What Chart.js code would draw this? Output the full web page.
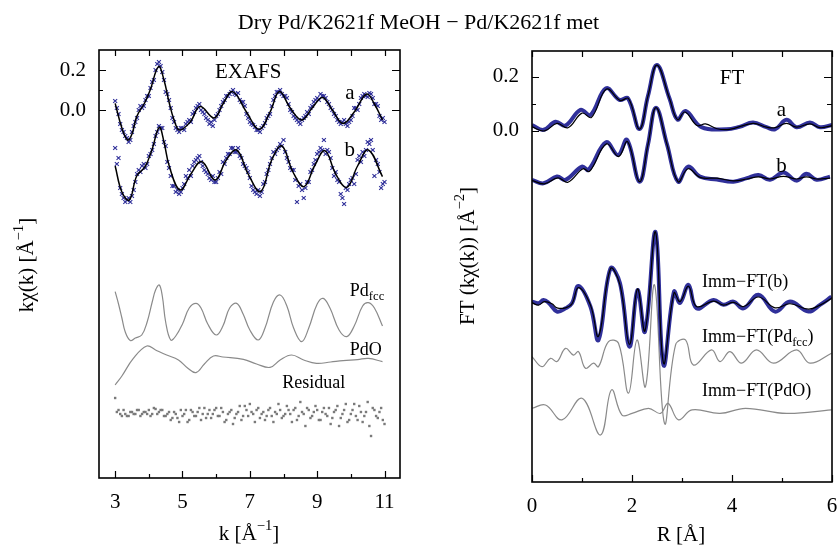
<!DOCTYPE html>
<html>
<head>
<meta charset="utf-8">
<script src="https://cdn.jsdelivr.net/npm/chart.js@4/dist/chart.umd.min.js"></script>
<style>
  html, body { margin: 0; padding: 0; background: #fff; }
  #wrap { position: relative; width: 837px; height: 545px; overflow: hidden; }
  canvas { position: absolute; left: 0; top: 0; }
  #title {
    position: absolute; left: 0; top: 9px; width: 837px; text-align: center;
    font: 22px 'Liberation Serif', 'DejaVu Serif', serif; line-height: 26px; color: #000;
  }
</style>
</head>
<body>
<div id="wrap">
  <canvas id="left" width="837" height="545"></canvas>
  <canvas id="right" width="837" height="545"></canvas>
  <div id="title">Dry Pd/K2621f MeOH − Pd/K2621f met</div>
</div>
<script>
// ---- left panel: EXAFS, k grids of the measured points
const kGrid = [3.0,3.1,3.2,3.3,3.4,3.5,3.6,3.7,3.8,3.9,4.0,4.1,4.2,4.3,4.4,4.5,4.6,4.7,4.8,4.9,
  5.0,5.1,5.2,5.3,5.4,5.5,5.6,5.7,5.8,5.9,6.0,6.1,6.2,6.3,6.4,6.5,6.6,6.7,6.8,6.9,
  7.0,7.1,7.2,7.3,7.4,7.5,7.6,7.7,7.8,7.9,8.0,8.1,8.2,8.3,8.4,8.5,8.6,8.7,8.8,8.9,
  9.0,9.1,9.2,9.3,9.4,9.5,9.6,9.7,9.8,9.9,10.0,10.1,10.2,10.3,10.4,10.5,10.6,10.7,10.8,10.9,11.0];
const kHalf = [3.05,3.15,3.25,3.35,3.45,3.55,3.65,3.75,3.85,3.95,4.05,4.15,4.25,4.35,4.45,4.55,4.65,4.75,4.85,4.95,
  5.05,5.15,5.25,5.35,5.45,5.55,5.65,5.75,5.85,5.95,6.05,6.15,6.25,6.35,6.45,6.55,6.65,6.75,6.85,6.95,
  7.05,7.15,7.25,7.35,7.45,7.55,7.65,7.75,7.85,7.95,8.05,8.15,8.25,8.35,8.45,8.55,8.65,8.75,8.85,8.95,
  9.05,9.15,9.25,9.35,9.45,9.55,9.65,9.75,9.85,9.95,10.05,10.15,10.25,10.35,10.45,10.55,10.65,10.75,10.85,10.95];

const exafsA = [0.045,-0.02,-0.10,-0.13,-0.16,-0.11,-0.06,0.00,0.01,0.05,0.07,0.14,0.20,0.24,0.19,0.09,0.05,-0.04,-0.09,-0.11,
  -0.09,-0.07,-0.05,-0.02,0.01,0.03,-0.01,-0.04,-0.07,-0.08,-0.03,0.0,0.04,0.07,0.08,0.10,0.075,0.05,0.04,-0.02,
  -0.06,-0.075,-0.10,-0.11,-0.08,-0.04,-0.02,0.05,0.09,0.10,0.07,0.06,0.0,-0.03,-0.05,-0.07,-0.04,-0.01,0.01,0.04,
  0.06,0.08,0.07,0.04,0.01,-0.02,-0.05,-0.07,-0.05,-0.08,-0.05,0.01,0.0,0.06,0.08,0.065,0.08,0.03,0.02,-0.05,-0.06];
const exafsA2 = [0.01,-0.07,-0.11,-0.14,-0.15,-0.08,-0.04,0.02,0.02,0.07,0.11,0.15,0.23,0.22,0.15,0.08,0.01,-0.06,-0.10,-0.09,
  -0.10,-0.06,-0.06,-0.01,0.02,0.0,-0.02,-0.05,-0.06,-0.05,-0.02,0.02,0.05,0.07,0.09,0.08,0.085,0.04,0.02,-0.04,
  -0.07,-0.085,-0.10,-0.09,-0.065,-0.03,0.02,0.07,0.09,0.08,0.07,0.03,-0.01,-0.04,-0.06,-0.05,-0.03,-0.02,0.02,0.05,
  0.05,0.07,0.06,0.03,0.0,-0.03,-0.06,-0.06,-0.07,-0.06,-0.03,0.01,0.03,0.07,0.07,0.085,0.06,0.03,-0.03,-0.04];

const exafsB = [-0.19,-0.24,-0.42,-0.46,-0.44,-0.43,-0.36,-0.30,-0.28,-0.29,-0.23,-0.20,-0.13,-0.08,-0.09,-0.18,-0.29,-0.38,-0.41,-0.42,
  -0.39,-0.33,-0.30,-0.28,-0.25,-0.23,-0.28,-0.31,-0.34,-0.33,-0.36,-0.31,-0.26,-0.24,-0.22,-0.19,-0.21,-0.23,-0.27,-0.29,
  -0.34,-0.40,-0.42,-0.43,-0.37,-0.32,-0.27,-0.21,-0.20,-0.17,-0.15,-0.24,-0.29,-0.30,-0.46,-0.37,-0.44,-0.36,-0.31,-0.27,
  -0.22,-0.19,-0.15,-0.20,-0.24,-0.33,-0.35,-0.42,-0.47,-0.40,-0.35,-0.37,-0.25,-0.26,-0.23,-0.16,-0.15,-0.33,-0.27,-0.39,-0.36];
const exafsB2 = [-0.27,-0.39,-0.44,-0.45,-0.46,-0.40,-0.32,-0.31,-0.27,-0.27,-0.22,-0.17,-0.11,-0.09,-0.16,-0.26,-0.33,-0.38,-0.40,-0.41,
  -0.37,-0.34,-0.33,-0.26,-0.24,-0.26,-0.30,-0.32,-0.35,-0.36,-0.34,-0.32,-0.27,-0.22,-0.19,-0.21,-0.19,-0.24,-0.28,-0.31,
  -0.38,-0.41,-0.40,-0.41,-0.36,-0.30,-0.24,-0.22,-0.19,-0.18,-0.21,-0.26,-0.30,-0.35,-0.38,-0.40,-0.39,-0.36,-0.30,-0.25,
  -0.21,-0.20,-0.22,-0.21,-0.29,-0.31,-0.36,-0.44,-0.39,-0.37,-0.34,-0.32,-0.23,-0.21,-0.20,-0.17,-0.20,-0.25,-0.31,-0.37];

const residual = [-1.44,-1.50,-1.53,-1.52,-1.53,-1.51,-1.52,-1.50,-1.52,-1.51,-1.50,-1.52,-1.495,-1.51,-1.50,-1.53,-1.51,-1.54,-1.52,-1.56,
  -1.53,-1.50,-1.55,-1.51,-1.53,-1.49,-1.52,-1.54,-1.50,-1.52,-1.49,-1.53,-1.51,-1.55,-1.51,-1.57,-1.52,-1.48,-1.53,-1.50,
  -1.47,-1.52,-1.50,-1.54,-1.51,-1.53,-1.49,-1.56,-1.52,-1.50,-1.53,-1.48,-1.52,-1.50,-1.55,-1.46,-1.52,-1.49,-1.54,-1.51,
  -1.50,-1.55,-1.49,-1.53,-1.57,-1.51,-1.48,-1.54,-1.50,-1.56,-1.52,-1.47,-1.55,-1.51,-1.53,-1.46,-1.63,-1.50,-1.54,-1.49,-1.57];
const residual2 = [-1.51,-1.52,-1.50,-1.53,-1.51,-1.52,-1.50,-1.53,-1.51,-1.52,
  -1.53,-1.49,-1.52,-1.50,-1.53,-1.52,-1.55,-1.51,-1.54,-1.50,
  -1.52,-1.56,-1.50,-1.53,-1.51,-1.55,-1.49,-1.52,-1.54,-1.50,
  -1.53,-1.49,-1.56,-1.52,-1.50,-1.54,-1.51,-1.55,-1.48,-1.53,
  -1.51,-1.56,-1.49,-1.52,-1.55,-1.50,-1.53,-1.51,-1.47,-1.54,
  -1.52,-1.50,-1.56,-1.49,-1.53,-1.51,-1.58,-1.50,-1.53,-1.48,
  -1.55,-1.51,-1.52,-1.49,-1.54,-1.50,-1.58,-1.52,-1.47,-1.55,
  -1.50,-1.53,-1.48,-1.56,-1.51,-1.58,-1.49,-1.53,-1.51,-1.55];

const fitA = [[3.0,0.033],[3.2,-0.09],[3.37,-0.15],[3.5,-0.12],[3.64,-0.033],[3.89,0.04],[4.04,0.1],[4.29,0.217],[4.45,0.15],
  [4.6,0.04],[4.75,-0.05],[4.91,-0.10],[5.23,-0.06],[5.52,0.017],[5.94,-0.04],[6.2,0.03],[6.49,0.092],[6.9,-0.01],[7.28,-0.097],
  [7.6,-0.01],[7.88,0.092],[8.2,0.01],[8.54,-0.05],[8.85,0.01],[9.16,0.063],[9.45,0.0],[9.77,-0.067],[10.1,-0.01],[10.47,0.08],
  [10.7,0.03],[10.94,-0.05]];

const fitB = [[3.0,-0.28],[3.2,-0.41],[3.42,-0.45],[3.64,-0.33],[3.89,-0.283],[4.09,-0.2],[4.31,-0.087],[4.45,-0.16],[4.61,-0.283],
  [4.93,-0.40],[5.25,-0.32],[5.57,-0.258],[5.97,-0.35],[6.3,-0.25],[6.61,-0.20],[6.95,-0.32],[7.32,-0.408],[7.65,-0.25],[7.95,-0.18],
  [8.28,-0.31],[8.61,-0.383],[8.92,-0.28],[9.23,-0.203],[9.55,-0.32],[9.88,-0.387],[10.2,-0.28],[10.52,-0.20],[10.94,-0.333]];

const pdFcc = [[3.0,-0.908],[3.1,-0.97],[3.2,-1.04],[3.3,-1.11],[3.45,-1.153],[3.6,-1.14],[3.79,-1.125],[3.95,-1.06],[4.1,-0.96],
  [4.2,-0.9],[4.31,-0.875],[4.4,-0.93],[4.5,-1.06],[4.65,-1.15],[4.8,-1.13],[5.0,-1.07],[5.2,-0.99],[5.40,-0.967],[5.55,-0.99],
  [5.75,-1.07],[6.0,-1.125],[6.2,-1.08],[6.4,-0.99],[6.61,-0.967],[6.8,-1.02],[7.0,-1.1],[7.25,-1.15],[7.45,-1.09],[7.7,-0.96],
  [7.9,-0.925],[8.1,-0.98],[8.3,-1.09],[8.54,-1.158],[8.75,-1.09],[9.0,-0.97],[9.18,-0.942],[9.38,-0.99],[9.65,-1.1],[9.88,-1.133],
  [10.1,-1.08],[10.35,-0.98],[10.52,-0.963],[10.7,-0.99],[10.94,-1.08]];

const pdO = [[3.0,-1.375],[3.2,-1.33],[3.54,-1.242],[3.94,-1.18],[4.2,-1.2],[4.53,-1.225],[4.88,-1.25],[5.15,-1.29],[5.40,-1.313],
  [5.65,-1.27],[5.92,-1.23],[6.2,-1.235],[6.81,-1.247],[7.2,-1.27],[7.6,-1.287],[7.9,-1.25],[8.24,-1.225],[8.6,-1.25],[8.98,-1.267],
  [9.4,-1.26],[9.77,-1.253],[10.2,-1.248],[10.52,-1.242],[10.94,-1.258]];

// ---- right panel: FT
const ftA = [[0,0.022],[0.23,0.004],[0.47,0.034],[0.67,0.02],[0.97,0.078],[1.17,0.059],[1.48,0.158],[1.75,0.115],[1.92,0.121],
  [2.15,0.007],[2.32,0.13],[2.5,0.244],[2.75,0.12],[2.91,0.042],[3.07,0.074],[3.39,0.014],[3.89,0.006],[4.15,0.015],[4.42,0.031],
  [4.69,0.014],[4.86,0.006],[5.09,0.041],[5.29,0.014],[5.56,0.031],[5.76,0.014],[6.0,0.022]];
const ftAFit = [[0,0.015],[0.25,0.0],[0.5,0.028],[0.72,0.012],[1.0,0.066],[1.19,0.05],[1.49,0.155],[1.76,0.113],[1.93,0.12],
  [2.15,0.007],[2.32,0.13],[2.5,0.244],[2.75,0.12],[2.91,0.042],[3.06,0.07],[3.3,0.02],[3.47,0.026],[3.7,0.008],[3.95,0.006],
  [4.42,0.028],[4.69,0.014],[4.86,0.012],[5.09,0.028],[5.29,0.014],[5.56,0.026],[5.76,0.012],[6.0,0.02]];
const ftB = [[0,-0.181],[0.23,-0.194],[0.5,-0.169],[0.67,-0.181],[1.0,-0.132],[1.13,-0.144],[1.48,-0.042],[1.72,-0.089],[1.9,-0.033],
  [2.15,-0.188],[2.32,-0.05],[2.48,0.086],[2.7,-0.05],[2.92,-0.188],[3.12,-0.132],[3.36,-0.169],[3.7,-0.18],[4.03,-0.188],[4.3,-0.175],
  [4.53,-0.163],[4.76,-0.181],[5.03,-0.154],[5.29,-0.184],[5.49,-0.159],[5.69,-0.181],[5.96,-0.169]];
const ftBFit = [[0,-0.183],[0.25,-0.196],[0.52,-0.174],[0.72,-0.19],[1.02,-0.14],[1.15,-0.15],[1.49,-0.048],[1.73,-0.095],[1.91,-0.04],
  [2.15,-0.188],[2.32,-0.05],[2.48,0.086],[2.7,-0.05],[2.92,-0.188],[3.12,-0.14],[3.36,-0.172],[3.7,-0.175],[4.03,-0.185],[4.3,-0.178],
  [4.53,-0.17],[4.76,-0.178],[5.03,-0.168],[5.29,-0.178],[5.49,-0.17],[5.69,-0.178],[5.96,-0.175]];
const immB = [[0,-0.632],[0.13,-0.638],[0.23,-0.626],[0.33,-0.636],[0.5,-0.669],[0.67,-0.657],[0.8,-0.638],[0.93,-0.574],[1.17,-0.651],
  [1.33,-0.774],[1.57,-0.509],[1.76,-0.564],[1.95,-0.799],[2.11,-0.589],[2.26,-0.743],[2.47,-0.374],[2.63,-0.867],[2.84,-0.595],
  [2.96,-0.637],[3.13,-0.570],[3.29,-0.657],[3.63,-0.626],[3.83,-0.644],[4.03,-0.632],[4.23,-0.657],[4.53,-0.607],[4.86,-0.669],
  [5.16,-0.632],[5.53,-0.669],[5.76,-0.644],[5.99,-0.614]];
const immBFit = [[0,-0.636],[0.13,-0.645],[0.25,-0.632],[0.4,-0.64],[0.5,-0.655],[0.67,-0.655],[0.8,-0.64],[0.93,-0.58],
  [1.17,-0.645],[1.33,-0.76],[1.57,-0.51],[1.76,-0.57],[1.95,-0.79],[2.11,-0.585],[2.26,-0.74],[2.47,-0.374],[2.63,-0.86],[2.84,-0.6],
  [2.96,-0.632],[3.13,-0.575],[3.29,-0.65],[3.63,-0.63],[3.83,-0.645],[4.03,-0.635],[4.23,-0.65],[4.53,-0.615],[4.86,-0.655],
  [5.16,-0.64],[5.53,-0.66],[5.76,-0.645],[5.99,-0.62]];
const immFcc = [[0,-0.836],[0.2,-0.873],[0.37,-0.842],[0.5,-0.854],[0.67,-0.805],[0.83,-0.830],[0.93,-0.817],[1.07,-0.879],[1.23,-0.860],
  [1.33,-0.873],[1.53,-0.780],[1.73,-0.786],[1.93,-0.971],[2.1,-0.774],[2.27,-0.947],[2.45,-0.570],[2.65,-1.083],[2.87,-0.793],
  [3.07,-0.774],[3.23,-0.867],[3.59,-0.811],[3.76,-0.854],[3.96,-0.817],[4.19,-0.860],[4.49,-0.811],[4.83,-0.860],[5.29,-0.811],
  [5.56,-0.860],[5.99,-0.823]];
const immPdO = [[0,-1.027],[0.27,-1.015],[0.6,-1.070],[1.0,-0.990],[1.37,-1.126],[1.59,-0.959],[1.8,-1.052],[2.0,-1.046],[2.33,-1.027],
  [2.57,-1.046],[2.72,-1.009],[2.93,-1.070],[3.2,-1.033],[3.76,-1.046],[4.27,-1.027],[5.09,-1.046],[5.99,-1.033]];

// tick values
const kTicks = [3,4,5,6,7,8,9,10,11];
const rTicks = [0,1,2,3,4,5,6];
const yTicks = [0,0.1,0.2];

const FONT = "'Liberation Serif', 'DejaVu Serif', serif";
Chart.defaults.font.family = FONT;
Chart.defaults.font.size = 21;
Chart.defaults.color = '#000';

const BLUE = '#30309a';
const GRAY = '#8a8a8a';

function pts(xs, ys) { return xs.map((x, i) => ({x: x, y: ys[i]})); }
function pairs(a) { return a.map(p => ({x: p[0], y: p[1]})); }

function line(data, color, width) {
  return { data: pairs(data), showLine: true, borderColor: color, borderWidth: width,
    pointRadius: 0, tension: 0.4, fill: false };
}
function crosses(xs, ys) {
  return { data: pts(xs, ys), pointStyle: 'crossRot', pointRadius: 2.8, borderColor: BLUE,
    borderWidth: 1.1, backgroundColor: BLUE };
}
function dots(xs, ys) {
  return { data: pts(xs, ys), pointStyle: 'rect', pointRadius: 1.7, borderWidth: 0, backgroundColor: '#7a7a7a' };
}

// text with optional sub (1) / superscript (2) pieces
function drawNote(ctx, px, py, parts, size, align) {
  let w = 0;
  parts.forEach(p => {
    ctx.font = (p[1] ? size * 0.7 : size) + 'px ' + FONT;
    w += ctx.measureText(p[0]).width;
  });
  let x = align === 'center' ? px - w / 2 : px;
  ctx.textAlign = 'left';
  ctx.textBaseline = 'middle';
  ctx.fillStyle = '#000';
  parts.forEach(p => {
    const s = p[1] ? size * 0.7 : size;
    ctx.font = s + 'px ' + FONT;
    const dy = p[1] === 1 ? size * 0.3 : (p[1] === 2 ? -size * 0.38 : 0);
    ctx.fillText(p[0], x, py + dy);
    x += ctx.measureText(p[0]).width;
  });
}

const framePlugin = {
  id: 'frame',
  afterDatasetsDraw(chart, args, opts) {
    const {ctx, chartArea: a, scales} = chart;
    const x = scales.x, y = scales.y;
    ctx.save();
    ctx.strokeStyle = '#000';
    ctx.lineWidth = 1.6;
    ctx.strokeRect(a.left, a.top, a.right - a.left, a.bottom - a.top);
    ctx.lineWidth = 1.2;
    ctx.beginPath();
    x.ticks.forEach(t => {
      const p = Math.round(x.getPixelForValue(t.value)) + 0.5;
      const len = t.label ? 7 : 4;
      ctx.moveTo(p, a.bottom); ctx.lineTo(p, a.bottom - len);
      ctx.moveTo(p, a.top); ctx.lineTo(p, a.top + 6);
    });
    y.ticks.forEach(t => {
      const p = Math.round(y.getPixelForValue(t.value)) + 0.5;
      const len = t.label ? 7 : 4;
      ctx.moveTo(a.left, p); ctx.lineTo(a.left + len, p);
      ctx.moveTo(a.right, p); ctx.lineTo(a.right - len - 1, p);
    });
    ctx.stroke();
    (opts.notes || []).forEach(n => {
      drawNote(ctx, x.getPixelForValue(n.x), y.getPixelForValue(n.y), n.parts, n.size, n.align);
    });
    // axis titles
    const t = opts.titles;
    drawNote(ctx, t.x.cx, t.x.cy, t.x.parts, 21, 'center');
    ctx.translate(t.y.cx, t.y.cy);
    ctx.rotate(-Math.PI / 2);
    drawNote(ctx, 0, 0, t.y.parts, 21, 'center');
    ctx.restore();
  }
};

function axes(xMin, xMax, xT, xLabelEvery, yMin, yMax, yW, xH) {
  return {
    x: {
      type: 'linear', min: xMin, max: xMax,
      afterBuildTicks: s => { s.ticks = xT.map(v => ({value: v})); },
      afterFit: s => { s.height = xH; s.paddingLeft = 0; s.paddingRight = 0; },
      grid: {display: false, drawTicks: false}, border: {display: false},
      ticks: {padding: 12, maxRotation: 0,
        callback: v => (Math.round(v) % 2 === xLabelEvery ? String(v) : '')}
    },
    y: {
      type: 'linear', min: yMin, max: yMax,
      afterBuildTicks: s => { s.ticks = yTicks.map(v => ({value: v})); },
      afterFit: s => { s.width = yW; s.paddingTop = 0; s.paddingBottom = 0; },
      grid: {display: false, drawTicks: false}, border: {display: false},
      ticks: {padding: 13,
        callback: v => (Math.abs(v - 0.1) < 1e-6 ? '' : v.toFixed(1))}
    }
  };
}

new Chart(document.getElementById('left'), {
  type: 'scatter',
  data: {
    datasets: [
      line(fitA, '#000', 1.5),
      line(fitB, '#000', 1.5),
      crosses(kGrid, exafsA),
      crosses(kHalf, exafsA2),
      crosses(kGrid, exafsB),
      crosses(kHalf, exafsB2),
      line(pdFcc, GRAY, 1.2),
      line(pdO, GRAY, 1.2),
      dots(kGrid, residual),
      dots(kHalf, residual2)
    ]
  },
  options: {
    responsive: false, animation: false, devicePixelRatio: 1,
    layout: {padding: {left: 0, top: 50, right: 437, bottom: 0}},
    scales: axes(2.52, 11.46, kTicks, 1, -1.84, 0.3, 99, 67),
    plugins: {
      legend: {display: false}, tooltip: {enabled: false},
      frame: {
        titles: {
          x: {cx: 249, cy: 534, parts: [['k [Å'], ['−1', 2], [']']]},
          y: {cx: 27, cy: 265, parts: [['kχ(k) [Å'], ['−1', 2], [']']]}
        },
        notes: [
          {x: 6.95, y: 0.19, parts: [['EXAFS']], size: 21, align: 'center'},
          {x: 9.97, y: 0.085, parts: [['a']], size: 21, align: 'center'},
          {x: 9.97, y: -0.2, parts: [['b']], size: 21, align: 'center'},
          {x: 9.97, y: -0.905, parts: [['Pd'], ['fcc', 1]], size: 18, align: 'left'},
          {x: 9.97, y: -1.2, parts: [['PdO']], size: 18, align: 'left'},
          {x: 8.9, y: -1.365, parts: [['Residual']], size: 18, align: 'center'}
        ]
      }
    }
  },
  plugins: [framePlugin]
});

new Chart(document.getElementById('right'), {
  type: 'scatter',
  data: {
    datasets: [
      line(ftAFit, '#000', 1.2),
      line(ftBFit, '#000', 1.2),
      line(immBFit, '#000', 1.2),
      line(ftA, BLUE, 4),
      line(ftB, BLUE, 4),
      line(immB, BLUE, 4),
      line(immFcc, GRAY, 1.2),
      line(immPdO, GRAY, 1.2)
    ]
  },
  options: {
    responsive: false, animation: false, devicePixelRatio: 1,
    layout: {padding: {left: 450, top: 51, right: 5, bottom: 0}},
    scales: axes(0, 6, rTicks, 0, -1.30, 0.296, 82, 63),
    plugins: {
      legend: {display: false}, tooltip: {enabled: false},
      frame: {
        titles: {
          x: {cx: 681, cy: 535, parts: [['R [Å]']]},
          y: {cx: 468, cy: 256, parts: [['FT (kχ(k)) [Å'], ['−2', 2], [']']]}
        },
        notes: [
          {x: 4.0, y: 0.196, parts: [['FT']], size: 21, align: 'center'},
          {x: 4.99, y: 0.074, parts: [['a']], size: 21, align: 'center'},
          {x: 4.99, y: -0.13, parts: [['b']], size: 21, align: 'center'},
          {x: 3.4, y: -0.559, parts: [['Imm−FT(b)']], size: 18, align: 'left'},
          {x: 3.4, y: -0.763, parts: [['Imm−FT(Pd'], ['fcc', 1], [')']], size: 18, align: 'left'},
          {x: 3.4, y: -0.963, parts: [['Imm−FT(PdO)']], size: 18, align: 'left'}
        ]
      }
    }
  },
  plugins: [framePlugin]
});
</script>
</body>
</html>
